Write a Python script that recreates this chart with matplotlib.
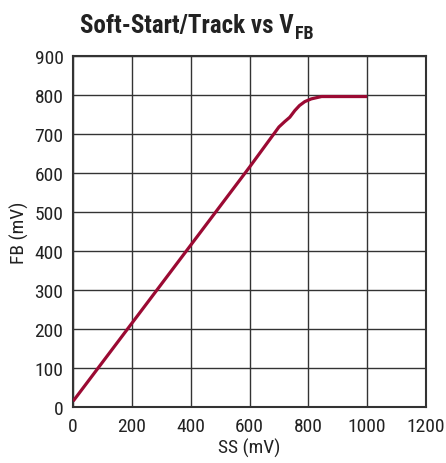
import matplotlib
matplotlib.use('Agg')
import matplotlib.pyplot as plt

# Data
ss_mv = [0, 100, 200, 300, 400, 500, 600, 700, 720, 737, 754, 770, 788, 810, 845, 900, 1000]
fb_mv = [15, 115, 215, 315, 415, 515, 615, 718, 732, 743, 760, 773, 783, 790, 796, 796, 796]

x_ticks = [0, 200, 400, 600, 800, 1000, 1200]
y_ticks = [0, 100, 200, 300, 400, 500, 600, 700, 800, 900]

plt.rcParams['font.family'] = ['Roboto Condensed', 'Archivo Narrow', 'DejaVu Sans']
title_family = ['Roboto Condensed', 'Barlow Condensed', 'DejaVu Sans']

fig = plt.figure(figsize=(4.46, 4.64), dpi=100)
ax = fig.add_axes([0.164, 0.1207, 0.791, 0.7565])

ax.plot(ss_mv, fb_mv, color='#9b0a33', linewidth=2.3, solid_capstyle='butt', zorder=3)

ax.set_xlim(0, 1200)
ax.set_ylim(0, 900)
ax.set_xticks(x_ticks)
ax.set_yticks(y_ticks)
ax.tick_params(length=0, labelsize=14, colors='#222222', pad=7)
ax.grid(True, color='#333333', linewidth=1.0)
for s in ax.spines.values():
    s.set_color('#333333')
    s.set_linewidth(1.5)

ax.set_xlabel('SS (mV)', fontsize=14, color='#222222', labelpad=2)
ax.set_ylabel('FB (mV)', fontsize=14, color='#222222', labelpad=4)

# title with hand-placed subscript
t = fig.text(80 / 446, 1 - 33 / 464, 'Soft-Start/Track vs V', fontsize=18,
             fontweight='bold', family=title_family, color='#222222',
             ha='left', va='baseline')
fig.canvas.draw()
bb = t.get_window_extent()
fig.text(bb.x1 / fig.bbox.width + 0.002, 1 - 39 / 464, 'FB', fontsize=13,
         fontweight='bold', family=title_family, color='#222222',
         ha='left', va='baseline')

fig.savefig('out.png', dpi=100)
